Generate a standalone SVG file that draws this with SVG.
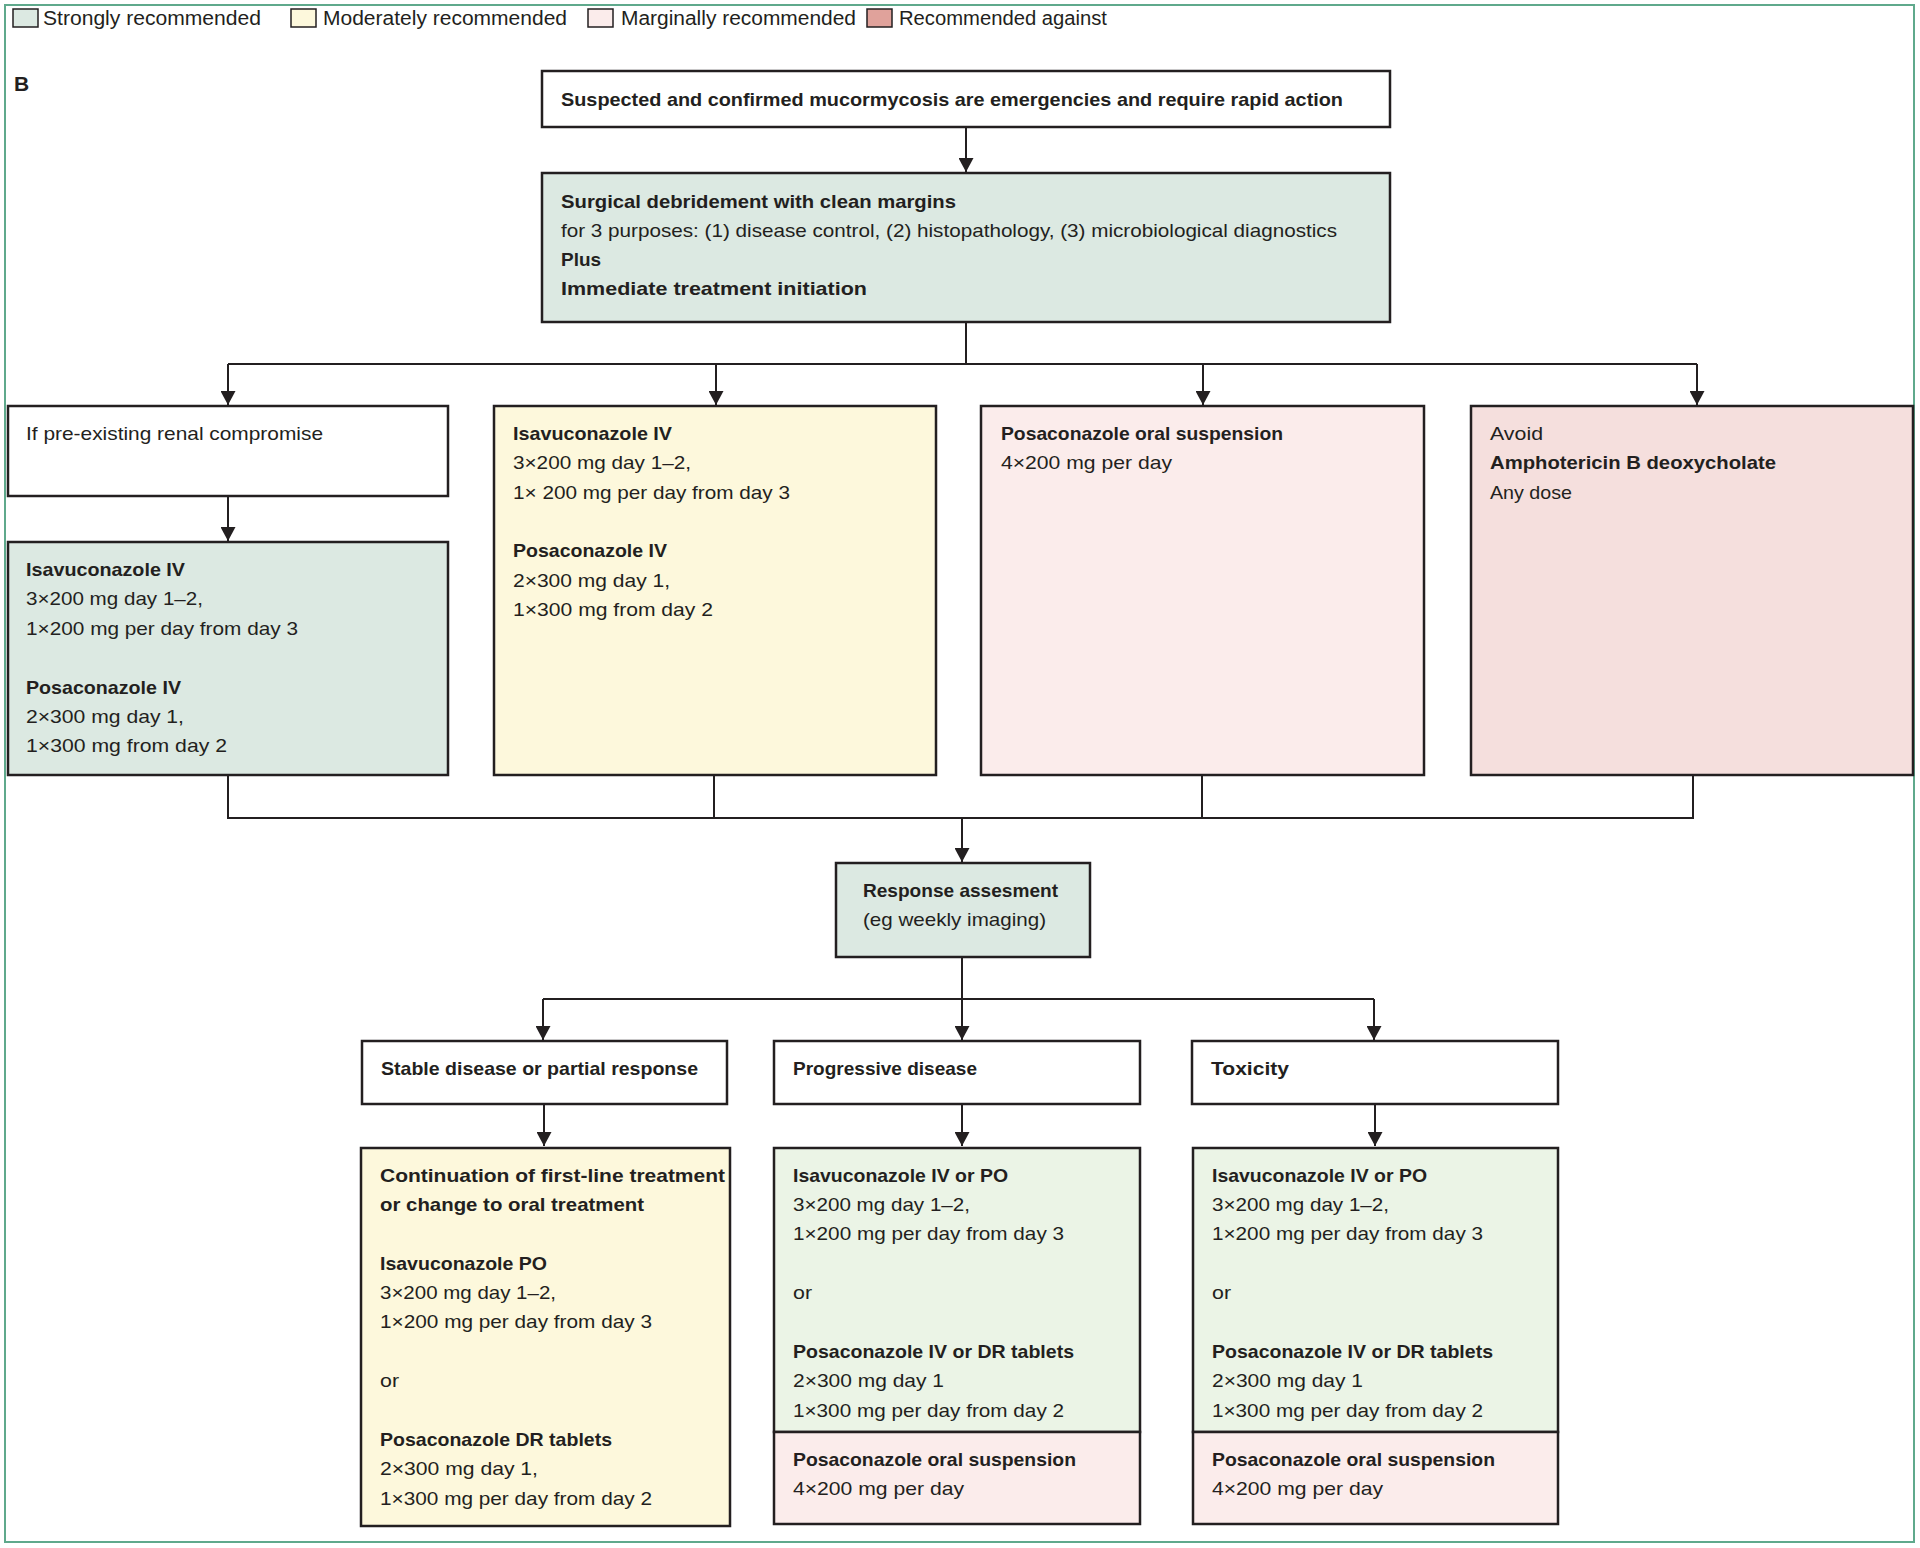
<svg xmlns="http://www.w3.org/2000/svg" width="1920" height="1548" viewBox="0 0 1920 1548">
<defs>
<marker id="ah" viewBox="0 0 14 15" refX="14" refY="7.5" markerWidth="14" markerHeight="15" markerUnits="userSpaceOnUse" orient="auto">
<path d="M0,0 L14,7.5 L0,15 Z" fill="#231f20"/>
</marker>
<style>
.t{font-family:"Liberation Sans",Arial,sans-serif;font-size:19px;fill:#231f20}
.b{font-weight:bold}
.lg{font-family:"Liberation Sans",Arial,sans-serif;font-size:20px;fill:#231f20}
.box{stroke:#231f20;stroke-width:2.5}
.sw{stroke:#231f20;stroke-width:1.5}
.strong{fill:#dce9e2}
.mod{fill:#fdf8dc}
.marg{fill:#fbeceb}
.against{fill:#f5dfdd}
.green2{fill:#ebf4e6}
.white{fill:#ffffff}
.ln{fill:none;stroke:#231f20;stroke-width:2}
.arr{fill:none;stroke:#231f20;stroke-width:2;marker-end:url(#ah)}
</style>
</defs>
<rect width="1920" height="1548" fill="#ffffff"/>
<rect x="5" y="5" width="1909" height="1537" fill="none" stroke="#5fa98c" stroke-width="2"/>

<g id="legend">
<rect class="sw strong" x="13" y="9" width="25" height="18"/>
<text class="lg" x="43" y="25" textLength="218" lengthAdjust="spacingAndGlyphs">Strongly recommended</text>
<rect class="sw mod" x="291" y="9" width="25" height="18"/>
<text class="lg" x="323" y="25" textLength="244" lengthAdjust="spacingAndGlyphs">Moderately recommended</text>
<rect class="sw marg" x="588" y="9" width="25" height="18"/>
<text class="lg" x="621" y="25" textLength="235" lengthAdjust="spacingAndGlyphs">Marginally recommended</text>
<rect class="sw" fill="#e0a29b" x="867" y="9" width="25" height="18"/>
<text class="lg" x="899" y="25" textLength="208" lengthAdjust="spacingAndGlyphs">Recommended against</text>
</g>

<text class="t b" x="14" y="91" style="font-size:21px">B</text>

<g id="connectors">
<line class="arr" x1="966" y1="127" x2="966" y2="172"/>
<polyline class="ln" points="966,322 966,364"/>
<polyline class="ln" points="228,364 1697,364"/>
<line class="arr" x1="228" y1="364" x2="228" y2="405"/>
<line class="arr" x1="716" y1="364" x2="716" y2="405"/>
<line class="arr" x1="1203" y1="364" x2="1203" y2="405"/>
<line class="arr" x1="1697" y1="364" x2="1697" y2="405"/>
<line class="arr" x1="228" y1="497" x2="228" y2="541"/>
<polyline class="ln" points="228,776 228,818 1693,818 1693,776"/>
<line class="ln" x1="714" y1="776" x2="714" y2="818"/>
<line class="ln" x1="1202" y1="776" x2="1202" y2="818"/>
<line class="arr" x1="962" y1="818" x2="962" y2="862"/>
<line class="ln" x1="962" y1="957" x2="962" y2="999"/>
<line class="ln" x1="543" y1="999" x2="1374" y2="999"/>
<line class="arr" x1="543" y1="999" x2="543" y2="1040"/>
<line class="arr" x1="962" y1="999" x2="962" y2="1040"/>
<line class="arr" x1="1374" y1="999" x2="1374" y2="1040"/>
<line class="arr" x1="544" y1="1104" x2="544" y2="1146"/>
<line class="arr" x1="962" y1="1104" x2="962" y2="1146"/>
<line class="arr" x1="1375" y1="1104" x2="1375" y2="1146"/>
</g>

<g id="n-emergency">
<rect class="box white" x="542" y="71" width="848" height="56"/>
<text class="t b" x="561" y="106" textLength="782" lengthAdjust="spacingAndGlyphs">Suspected and confirmed mucormycosis are emergencies and require rapid action</text>
</g>

<g id="n-surgery">
<rect class="box strong" x="542" y="173" width="848" height="149"/>
<text class="t b" x="561" y="208" textLength="395" lengthAdjust="spacingAndGlyphs">Surgical debridement with clean margins</text>
<text class="t" x="561" y="237" textLength="776" lengthAdjust="spacingAndGlyphs">for 3 purposes: (1) disease control, (2) histopathology, (3) microbiological diagnostics</text>
<text class="t b" x="561" y="266" textLength="40" lengthAdjust="spacingAndGlyphs">Plus</text>
<text class="t b" x="561" y="295" textLength="306" lengthAdjust="spacingAndGlyphs">Immediate treatment initiation</text>
</g>

<g id="n-renal">
<rect class="box white" x="8" y="406" width="440" height="90"/>
<text class="t" x="26" y="440" textLength="297" lengthAdjust="spacingAndGlyphs">If pre-existing renal compromise</text>
</g>

<g id="n-renal-tx">
<rect class="box strong" x="8" y="542" width="440" height="233"/>
<text class="t b" x="26" y="576" textLength="159" lengthAdjust="spacingAndGlyphs">Isavuconazole IV</text>
<text class="t" x="26" y="605" textLength="177" lengthAdjust="spacingAndGlyphs">3×200 mg day 1–2,</text>
<text class="t" x="26" y="635" textLength="272" lengthAdjust="spacingAndGlyphs">1×200 mg per day from day 3</text>
<text class="t b" x="26" y="694" textLength="155" lengthAdjust="spacingAndGlyphs">Posaconazole IV</text>
<text class="t" x="26" y="723" textLength="158" lengthAdjust="spacingAndGlyphs">2×300 mg day 1,</text>
<text class="t" x="26" y="752" textLength="201" lengthAdjust="spacingAndGlyphs">1×300 mg from day 2</text>
</g>

<g id="n-moderate">
<rect class="box mod" x="494" y="406" width="442" height="369"/>
<text class="t b" x="513" y="440" textLength="159" lengthAdjust="spacingAndGlyphs">Isavuconazole IV</text>
<text class="t" x="513" y="469" textLength="178" lengthAdjust="spacingAndGlyphs">3×200 mg day 1–2,</text>
<text class="t" x="513" y="499" textLength="277" lengthAdjust="spacingAndGlyphs">1× 200 mg per day from day 3</text>
<text class="t b" x="513" y="557" textLength="154" lengthAdjust="spacingAndGlyphs">Posaconazole IV</text>
<text class="t" x="513" y="587" textLength="157" lengthAdjust="spacingAndGlyphs">2×300 mg day 1,</text>
<text class="t" x="513" y="616" textLength="200" lengthAdjust="spacingAndGlyphs">1×300 mg from day 2</text>
</g>

<g id="n-marginal">
<rect class="box marg" x="981" y="406" width="443" height="369"/>
<text class="t b" x="1001" y="440" textLength="282" lengthAdjust="spacingAndGlyphs">Posaconazole oral suspension</text>
<text class="t" x="1001" y="469" textLength="171" lengthAdjust="spacingAndGlyphs">4×200 mg per day</text>
</g>

<g id="n-against">
<rect class="box against" x="1471" y="406" width="442" height="369"/>
<text class="t" x="1490" y="440" textLength="53" lengthAdjust="spacingAndGlyphs">Avoid</text>
<text class="t b" x="1490" y="469" textLength="286" lengthAdjust="spacingAndGlyphs">Amphotericin B deoxycholate</text>
<text class="t" x="1490" y="499" textLength="82" lengthAdjust="spacingAndGlyphs">Any dose</text>
</g>

<g id="n-response">
<rect class="box strong" x="836" y="863" width="254" height="94"/>
<text class="t b" x="863" y="897" textLength="195" lengthAdjust="spacingAndGlyphs">Response assesment</text>
<text class="t" x="863" y="926" textLength="183" lengthAdjust="spacingAndGlyphs">(eg weekly imaging)</text>
</g>

<g id="n-stable">
<rect class="box white" x="362" y="1041" width="365" height="63"/>
<text class="t b" x="381" y="1075" textLength="317" lengthAdjust="spacingAndGlyphs">Stable disease or partial response</text>
</g>

<g id="n-progressive">
<rect class="box white" x="774" y="1041" width="366" height="63"/>
<text class="t b" x="793" y="1075" textLength="184" lengthAdjust="spacingAndGlyphs">Progressive disease</text>
</g>

<g id="n-toxicity">
<rect class="box white" x="1192" y="1041" width="366" height="63"/>
<text class="t b" x="1211" y="1075" textLength="78" lengthAdjust="spacingAndGlyphs">Toxicity</text>
</g>

<g id="n-stable-tx">
<rect class="box mod" x="361" y="1148" width="369" height="378"/>
<text class="t b" x="380" y="1182" textLength="345" lengthAdjust="spacingAndGlyphs">Continuation of first-line treatment</text>
<text class="t b" x="380" y="1211" textLength="264" lengthAdjust="spacingAndGlyphs">or change to oral treatment</text>
<text class="t b" x="380" y="1270" textLength="167" lengthAdjust="spacingAndGlyphs">Isavuconazole PO</text>
<text class="t" x="380" y="1299" textLength="176" lengthAdjust="spacingAndGlyphs">3×200 mg day 1–2,</text>
<text class="t" x="380" y="1328" textLength="272" lengthAdjust="spacingAndGlyphs">1×200 mg per day from day 3</text>
<text class="t" x="380" y="1387" textLength="19" lengthAdjust="spacingAndGlyphs">or</text>
<text class="t b" x="380" y="1446" textLength="232" lengthAdjust="spacingAndGlyphs">Posaconazole DR tablets</text>
<text class="t" x="380" y="1475" textLength="158" lengthAdjust="spacingAndGlyphs">2×300 mg day 1,</text>
<text class="t" x="380" y="1505" textLength="272" lengthAdjust="spacingAndGlyphs">1×300 mg per day from day 2</text>
</g>

<g id="n-progressive-tx">
<rect class="box green2" x="774" y="1148" width="366" height="284"/>
<rect class="box marg" x="774" y="1432" width="366" height="92"/>
<text class="t b" x="793" y="1182" textLength="215" lengthAdjust="spacingAndGlyphs">Isavuconazole IV or PO</text>
<text class="t" x="793" y="1211" textLength="177" lengthAdjust="spacingAndGlyphs">3×200 mg day 1–2,</text>
<text class="t" x="793" y="1240" textLength="271" lengthAdjust="spacingAndGlyphs">1×200 mg per day from day 3</text>
<text class="t" x="793" y="1299" textLength="19" lengthAdjust="spacingAndGlyphs">or</text>
<text class="t b" x="793" y="1358" textLength="281" lengthAdjust="spacingAndGlyphs">Posaconazole IV or DR tablets</text>
<text class="t" x="793" y="1387" textLength="151" lengthAdjust="spacingAndGlyphs">2×300 mg day 1</text>
<text class="t" x="793" y="1417" textLength="271" lengthAdjust="spacingAndGlyphs">1×300 mg per day from day 2</text>
<text class="t b" x="793" y="1466" textLength="283" lengthAdjust="spacingAndGlyphs">Posaconazole oral suspension</text>
<text class="t" x="793" y="1495" textLength="171" lengthAdjust="spacingAndGlyphs">4×200 mg per day</text>
</g>

<g id="n-toxicity-tx">
<rect class="box green2" x="1193" y="1148" width="365" height="284"/>
<rect class="box marg" x="1193" y="1432" width="365" height="92"/>
<text class="t b" x="1212" y="1182" textLength="215" lengthAdjust="spacingAndGlyphs">Isavuconazole IV or PO</text>
<text class="t" x="1212" y="1211" textLength="177" lengthAdjust="spacingAndGlyphs">3×200 mg day 1–2,</text>
<text class="t" x="1212" y="1240" textLength="271" lengthAdjust="spacingAndGlyphs">1×200 mg per day from day 3</text>
<text class="t" x="1212" y="1299" textLength="19" lengthAdjust="spacingAndGlyphs">or</text>
<text class="t b" x="1212" y="1358" textLength="281" lengthAdjust="spacingAndGlyphs">Posaconazole IV or DR tablets</text>
<text class="t" x="1212" y="1387" textLength="151" lengthAdjust="spacingAndGlyphs">2×300 mg day 1</text>
<text class="t" x="1212" y="1417" textLength="271" lengthAdjust="spacingAndGlyphs">1×300 mg per day from day 2</text>
<text class="t b" x="1212" y="1466" textLength="283" lengthAdjust="spacingAndGlyphs">Posaconazole oral suspension</text>
<text class="t" x="1212" y="1495" textLength="171" lengthAdjust="spacingAndGlyphs">4×200 mg per day</text>
</g>
</svg>
